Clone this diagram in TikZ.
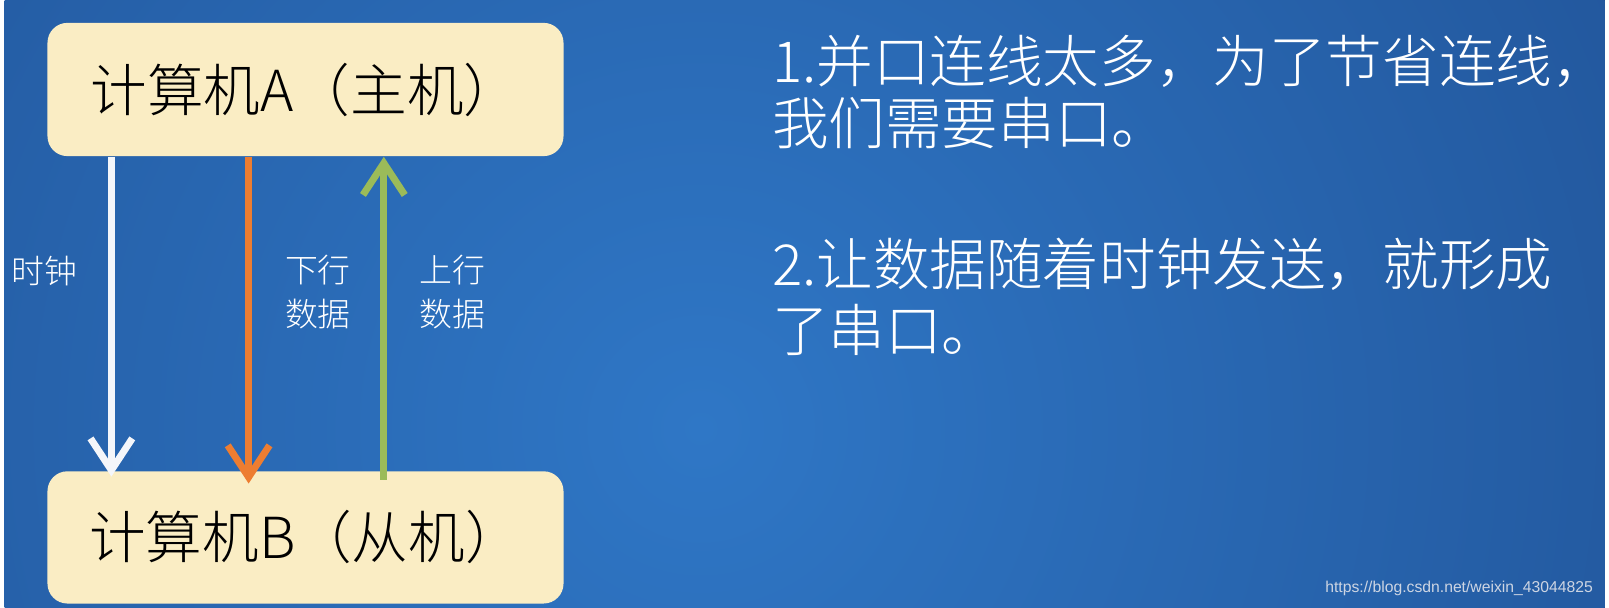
\documentclass[tikz,border=0pt]{standalone}
\usepackage{fontspec}
\setmainfont{Noto Sans CJK SC}[UprightFont={* Light}]
\newfontfamily\urlfont{Liberation Sans}
\usetikzlibrary{arrows.meta,positioning}
\definecolor{bgdark}{HTML}{19407F}
\definecolor{bglight}{HTML}{2F77C6}
\definecolor{boxfill}{HTML}{FAEDC4}
\definecolor{clkwhite}{HTML}{F4F6FA}
\definecolor{downorange}{HTML}{ED7D31}
\definecolor{upgreen}{HTML}{9BBB59}

\begin{document}
\begin{tikzpicture}[
	box/.style={fill=boxfill,rounded corners=0.2cm,minimum width=5.19cm,minimum height=1.34cm,text=black,font=\fontsize{16.2}{18}\selectfont},
	wire/.style={line width=0.07cm,-{Straight Barb[length=0.32cm,width=0.42cm]}},
	lbl/.style={text=white,align=center,font=\fontsize{9.4}{12.5}\selectfont},
	txtline/.style={text=white,anchor=base west,inner sep=0pt,font=\fontsize{16.2}{18}\selectfont}
	]
	% background
	\fill[bgdark] (0,0) rectangle (16.09,6.11);
	\begin{scope}
	\clip (0,0) rectangle (16.09,6.11);
	\shade[inner color=bglight,outer color=bgdark] (7.0,1.8) circle (18);
	\end{scope}
	% the two computers
	\node[box] (A) at (3.025,5.21) {计算机A（主机）};
	\node[box,minimum height=1.33cm] (B) at (3.025,0.705) {计算机B（从机）};
	% lines between them
	\draw[wire,clkwhite] ([xshift=0.65cm]A.south west) -- ([xshift=0.65cm,yshift=-0.06cm]B.north west);
	\draw[wire,downorange] ([xshift=2.03cm]A.south west) -- ([xshift=2.03cm,yshift=-0.13cm]B.north west);
	\draw[wire,upgreen] ([xshift=3.39cm,yshift=-0.09cm]B.north west) -- ([xshift=3.39cm]A.south west);
	\node[lbl] (clk) at (0.40,3.38) {时钟};
	\node[lbl] (down) at (3.15,3.17) {下行\\数据};
	\node[lbl] (up) at (4.50,3.17) {上行\\数据};
	% notes
	\node[txtline] (p1) at (7.71,5.28) {1.并口连线太多，为了节省连线，};
	\node[txtline] (p1b) at (7.71,4.66) {我们需要串口。};
	\node[txtline] (p2) at (7.71,3.24) {2.让数据随着时钟发送，就形成};
	\node[txtline] (p2b) at (7.71,2.57) {了串口。};
	\node[anchor=east,inner sep=0pt,text=white!78!bgdark,font=\urlfont\fontsize{4.5}{5}\selectfont] (url) at (15.98,0.19) {https://blog.csdn.net/weixin\_43044825};
\end{tikzpicture}
\end{document}
